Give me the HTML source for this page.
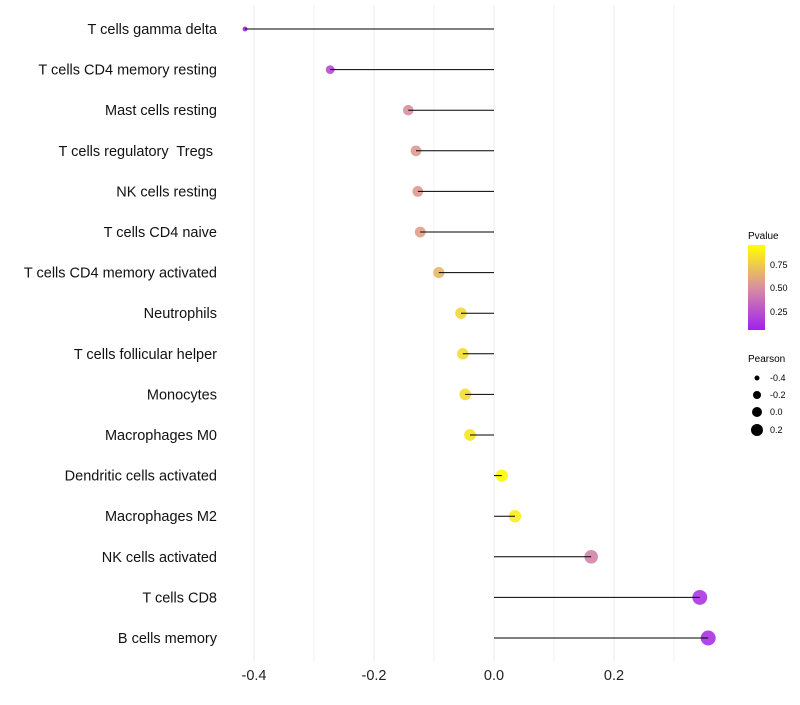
<!DOCTYPE html>
<html><head><meta charset="utf-8"><style>
body{margin:0;background:#fff;font-family:"Liberation Sans",sans-serif}
text{white-space:pre}
</style></head><body>
<svg id="c" width="800" height="700" xmlns="http://www.w3.org/2000/svg">
<defs><linearGradient id="pg" x1="0" y1="1" x2="0" y2="0">
<stop offset="0" stop-color="#a020f0"/><stop offset="0.5" stop-color="#d98fa0"/><stop offset="1" stop-color="#ffff00"/></linearGradient></defs>
<g id="grid"></g><g id="marks"></g><g id="labels"></g>
<g font-size="9">
<text x="748" y="239" font-size="10">Pvalue</text>
<rect x="748" y="245" width="17" height="85" fill="url(#pg)"/>
<text x="770" y="268">0.75</text><text x="770" y="291">0.50</text><text x="770" y="315">0.25</text>
</g>
<g font-size="9">
<text x="748" y="362" font-size="10">Pearson</text>
<circle cx="757" cy="378" r="2.5"/><text x="770" y="381">-0.4</text>
<circle cx="757" cy="395" r="4"/><text x="770" y="398">-0.2</text>
<circle cx="757" cy="412" r="5"/><text x="770" y="415">0.0</text>
<circle cx="757" cy="430" r="6"/><text x="770" y="433">0.2</text>
</g>
</svg>
<script>
const categories=["T cells gamma delta","T cells CD4 memory resting","Mast cells resting","T cells regulatory  Tregs ","NK cells resting","T cells CD4 naive","T cells CD4 memory activated","Neutrophils","T cells follicular helper","Monocytes","Macrophages M0","Dendritic cells activated","Macrophages M2","NK cells activated","T cells CD8","B cells memory"];
const pearson=[-0.415,-0.273,-0.143,-0.13,-0.127,-0.123,-0.092,-0.055,-0.052,-0.048,-0.04,0.013,0.035,0.162,0.343,0.357];
const pvalue=[0.03,0.2,0.5,0.55,0.55,0.58,0.68,0.82,0.84,0.85,0.88,0.97,0.92,0.45,0.1,0.08];
const xTicks=[-0.4,-0.2,0.0,0.2];
const xTickLabels=["-0.4","-0.2","0.0","0.2"];
const NS="http://www.w3.org/2000/svg";
const x=v=>494+v*600;
const y=i=>29+i*(609/(categories.length-1));
function col(p){const s=[[160,32,240],[217,143,160],[255,255,0]];let a,b,t;if(p<0.5){a=s[0];b=s[1];t=p/0.5}else{a=s[1];b=s[2];t=(p-0.5)/0.5}return`rgb(${a.map((c,k)=>Math.round(c+(b[k]-c)*t)).join(",")})`}
const r=v=>2+5.5*Math.sqrt(Math.max(0,v+0.42)/0.78);
function mk(tag,at,p){const e=document.createElementNS(NS,tag);for(const k in at)e.setAttribute(k,at[k]);p.appendChild(e);return e}
const grid=document.getElementById('grid'),marks=document.getElementById('marks'),labels=document.getElementById('labels');
for(let v=-0.4;v<=0.31;v+=0.1){const g=mk('line',{x1:x(v),x2:x(v),y1:5,y2:662,stroke:'#ebebeb','stroke-width':Math.abs(Math.round(v*10))%2===0?1:0.6},grid);

}
xTicks.forEach((v,i)=>{const t=mk('text',{x:x(v),y:680,'text-anchor':'middle','font-size':14.5,fill:'#222'},labels);t.textContent=xTickLabels[i];

});
categories.forEach((c,i)=>{
const t=mk('text',{x:217,y:y(i)+5,'text-anchor':'end','font-size':14.5,fill:'#111'},labels);t.textContent=c;


const p=mk('circle',{cx:x(pearson[i]),cy:y(i),r:r(pearson[i]),fill:col(pvalue[i]),'fill-opacity':0.9},marks);


const l=mk('line',{x1:x(0),x2:x(pearson[i]),y1:y(i),y2:y(i),stroke:'#000','stroke-width':1},marks);


});
</script>
</body></html>
